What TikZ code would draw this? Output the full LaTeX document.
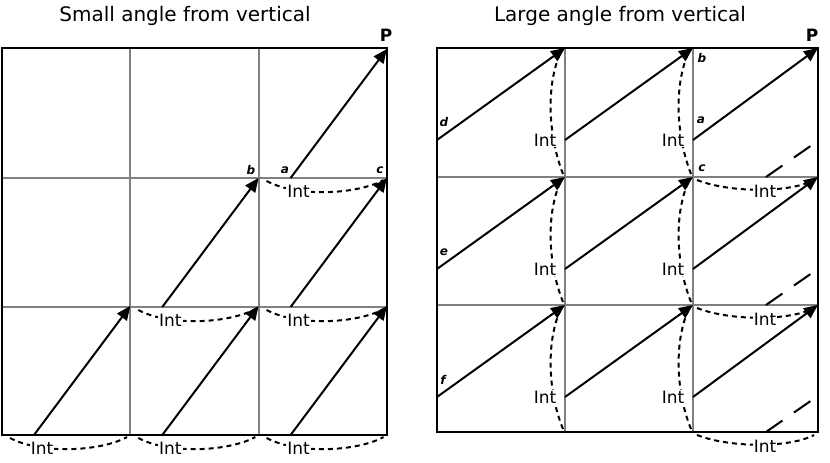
\documentclass[tikz,border=0pt]{standalone}
\usepackage{fontspec}
\setmainfont{DejaVu Sans}
\usetikzlibrary{arrows.meta}
\begin{document}
\begin{tikzpicture}[x=1pt,y=-1pt,
  frame/.style={line width=2.5pt},
  gridl/.style={line width=2pt,draw=gray},
  arr/.style={line width=2pt,-{Triangle[length=14pt,width=12pt]}},
  intarc/.style={line width=2pt,dash pattern=on 5pt off 4pt},
  longdash/.style={line width=2pt,dash pattern=on 20pt off 14pt},
  intlbl/.style={fill=white,inner sep=1pt,font=\fontsize{17}{20}\selectfont},
  lbl/.style={font=\fontsize{12}{14}\selectfont\bfseries\itshape,inner sep=0pt},
  ttl/.style={font=\fontsize{20}{24}\selectfont,inner sep=0pt}]
\useasboundingbox (0,0) rectangle (830,463);
\node[ttl] (t1) at (185,16) {Small angle from vertical};
\node[ttl] (t2) at (620,16) {Large angle from vertical};
% left grid
\draw[gridl] (130,48)--(130,435) (259,48)--(259,435) (2,178)--(387,178) (2,307)--(387,307);
\draw[frame] (2,48) rectangle (387,435);
\foreach \c/\r in {0/435,1/435,2/435,1/307,2/307,2/178}{
  \pgfmathsetmacro{\cx}{2+128.3*\c}
  \draw[intarc] (\cx+8,\r+3) .. controls (\cx+40,\r+20) and (\cx+100,\r+16) .. (\cx+125,\r+2);
  \node[intlbl] at (\cx+40,\r+13) {Int};
}
\foreach \c/\r in {0/435,1/435,2/435,1/307,2/307,2/178}{
  \pgfmathsetmacro{\cx}{2+128.3*\c}
  \draw[arr] (\cx+32,\r) -- (\cx+128.3,\r-129);
}
\node[lbl] (lb) at (251,170) {b};
\node[lbl] (la) at (285,170) {a};
\node[lbl] (lc) at (380,170) {c};
\node[font=\fontsize{17}{20}\selectfont\bfseries,inner sep=0pt] (P1) at (386,35) {P};
% right grid
\draw[gridl] (565,48)--(565,432) (693,48)--(693,432) (437,177)--(818,177) (437,305)--(818,305);
\draw[frame] (437,48) rectangle (818,432);
\foreach \t/\b in {48/177,177/305,305/432}{
  \foreach \gx in {565,693}{
    \draw[intarc] (\gx-2,\b-3) .. controls (\gx-18,\t+85) and (\gx-18,\t+35) .. (\gx-5,\t+6);
    \node[intlbl] at (\gx-20,\t+92) {Int};
  }
}
\foreach \b in {177,305,432}{
  \draw[intarc] (697,\b+3) .. controls (730,\b+16) and (790,\b+16) .. (814,\b+3);
  \node[intlbl] at (765,\b+14) {Int};
  \draw[longdash] (766,\b) -- (812,\b-32);
}
\foreach \t in {48,177,305}{
  \foreach \k in {0,1,2}{
    \pgfmathsetmacro{\sx}{437+128*\k}
    \pgfmathsetmacro{\ex}{\k==2 ? 818 : 565+128*\k}
    \draw[arr] (\sx,\t+92) -- (\ex,\t);
  }
}
\node[lbl] (ld) at (444,122) {d};
\node[lbl] (le) at (444,252) {e};
\node[lbl] (lf) at (443,380) {f};
\node[lbl] (lb2) at (702,58) {b};
\node[lbl] (la2) at (701,120) {a};
\node[lbl] (lc2) at (702,168) {c};
\node[font=\fontsize{17}{20}\selectfont\bfseries,inner sep=0pt] (P2) at (812,35) {P};
\end{tikzpicture}
\end{document}
